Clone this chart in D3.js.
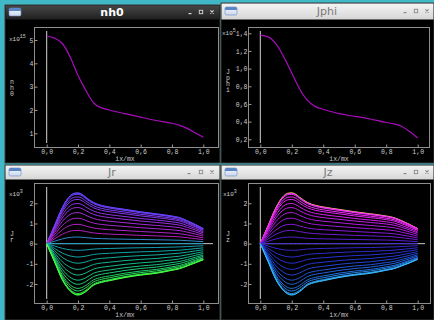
<!DOCTYPE html>
<html><head><meta charset="utf-8">
<script src="https://cdn.jsdelivr.net/npm/d3@7"></script>
<style>html,body{margin:0;padding:0;background:#40b8c8;overflow:hidden}svg{display:block}</style>
</head><body><svg id="c" width="434" height="320"></svg>
<script>
// ---------------- data ----------------
const nhX   = [0, 0.05, 0.1, 0.15, 0.2, 0.25, 0.3, 0.35, 0.4, 0.5, 0.6, 0.7, 0.8, 0.85, 0.9, 0.95, 1.0];
const nh0   = [5.16, 5.08, 4.85, 4.27, 3.48, 2.84, 2.30, 2.09, 2.00, 1.84, 1.69, 1.55, 1.43, 1.34, 1.20, 1.01, 0.83];
const jphi  = [1.38, 1.36, 1.28, 1.13, 0.95, 0.77, 0.64, 0.57, 0.54, 0.49, 0.46, 0.43, 0.39, 0.375, 0.345, 0.285, 0.215];

const jX      = [0, 0.05, 0.1, 0.15, 0.175, 0.2, 0.225, 0.25, 0.3, 0.35, 0.4, 0.5, 0.6, 0.7, 0.8, 0.85, 0.9, 0.95, 1.0];
const jrUpper = [0, 0.90, 1.80, 2.38, 2.50, 2.52, 2.45, 2.30, 2.04, 1.90, 1.82, 1.70, 1.58, 1.48, 1.37, 1.29, 1.13, 0.95, 0.75];
const jrLower = [0, -0.90, -1.80, -2.35, -2.50, -2.55, -2.50, -2.38, -2.06, -1.92, -1.84, -1.68, -1.56, -1.47, -1.32, -1.24, -1.10, -0.95, -0.80];
const jzUpper = [0, 0.90, 1.80, 2.38, 2.50, 2.52, 2.45, 2.30, 2.04, 1.90, 1.82, 1.70, 1.58, 1.48, 1.37, 1.29, 1.13, 0.95, 0.75];
const jzLower = [0, -0.90, -1.80, -2.35, -2.50, -2.55, -2.50, -2.38, -2.06, -1.92, -1.84, -1.68, -1.56, -1.47, -1.32, -1.24, -1.10, -0.95, -0.78];
// relative level of each of the 25 curves (top to bottom)
const jLevels = [1.0, 0.99, 0.97, 0.92, 0.87, 0.79, 0.71, 0.61, 0.5, 0.38, 0.26, 0.13, 0,
                 -0.13, -0.26, -0.38, -0.5, -0.61, -0.71, -0.79, -0.87, -0.92, -0.97, -0.99, -1.0];

const xTicks      = [0, 0.2, 0.4, 0.6, 0.8, 1.0];
const xTickLabels = ["0,0", "0,2", "0,4", "0,6", "0,8", "1,0"];
const nhTicks     = [1, 2, 3, 4, 5];
const nhTickLabels= ["1", "2", "3", "4", "5"];
const jphiTicks   = [0.2, 0.4, 0.6, 0.8, 1.0, 1.2, 1.4];
const jphiTickLabels = ["0,2", "0,4", "0,6", "0,8", "1,0", "1,2", "1,4"];
const jTicks      = [-2, -1, 0, 1, 2];
const jTickLabels = ["-2", "-1", "0", "1", "2"];

// ---------------- styling ----------------
const jrColorStops = [[0,"#5a46ff"],[3,"#7a3af2"],[7,"#a62ad8"],[10,"#b020b8"],[11,"#2a88c8"],[12,"#1898b8"],[14,"#10a4a4"],[18,"#18c080"],[22,"#30e050"],[24,"#48ff40"]];
const jzColorStops = [[0,"#d8e820"],[1,"#ff38ff"],[4,"#e424f0"],[8,"#a018d8"],[12,"#3a20c8"],[16,"#2038d0"],[20,"#2070e0"],[24,"#38b8f8"]];
const FONT = "'Liberation Mono','DejaVu Sans Mono',monospace";
const TICK_FS = 6.5;

const svg = d3.select("#c");
svg.append("rect").attr("width",434).attr("height",320).attr("fill","#40b8c8");

const defs = svg.append("defs");
const gDark = defs.append("linearGradient").attr("id","gDark").attr("x1",0).attr("x2",0).attr("y1",0).attr("y2",1);
gDark.append("stop").attr("offset","0%").attr("stop-color","#474747");
gDark.append("stop").attr("offset","100%").attr("stop-color","#1f1f1f");
const gLight = defs.append("linearGradient").attr("id","gLight").attr("x1",0).attr("x2",0).attr("y1",0).attr("y2",1);
gLight.append("stop").attr("offset","0%").attr("stop-color","#f4f4f4");
gLight.append("stop").attr("offset","100%").attr("stop-color","#d6d6d6");
const gIcon = defs.append("linearGradient").attr("id","gIcon").attr("x1",0).attr("x2",0).attr("y1",0).attr("y2",1);
gIcon.append("stop").attr("offset","0%").attr("stop-color","#5a86c8");
gIcon.append("stop").attr("offset","35%").attr("stop-color","#5a86c8");
gIcon.append("stop").attr("offset","36%").attr("stop-color","#e8eef8");
gIcon.append("stop").attr("offset","100%").attr("stop-color","#c8d6ee");

const windows = [
  {title:"nh0",  x:5,   y:5,   w:215, h:158, th:14, dark:true,  tx:112, btn:[190,201,212]},
  {title:"Jphi", x:221, y:3,   w:213, h:160, th:16, dark:false, tx:327, btn:[405,416,427]},
  {title:"Jr",   x:5,   y:165, w:215, h:155, th:14, dark:false, tx:112, btn:[189,201,212]},
  {title:"Jz",   x:221, y:165, w:213, h:155, th:14, dark:false, tx:328, btn:[405,416,427]}
];

windows.forEach(w => {
  const g = svg.append("g");
  g.append("rect").attr("x",w.x).attr("y",w.y).attr("width",w.w).attr("height",w.h)
    .attr("fill","#000").attr("stroke","#3a3a3a").attr("stroke-width",1);
  g.append("rect").attr("x",w.x+0.5).attr("y",w.y+0.5).attr("width",w.w-1).attr("height",w.th)
    .attr("fill", w.dark ? "url(#gDark)" : "url(#gLight)");
  g.append("rect").attr("x",w.x+4).attr("y",w.y+w.th/2-4).attr("width",12).attr("height",8).attr("rx",1.5)
    .attr("fill","url(#gIcon)").attr("stroke","#6a8cc0").attr("stroke-width",0.6);
  g.append("text").attr("x",w.tx).attr("y",w.y+w.th/2+4).attr("text-anchor","middle")
    .attr("font-family","'DejaVu Sans',sans-serif").attr("font-size",11)
    .attr("font-weight", w.dark ? "bold" : "normal")
    .attr("fill", w.dark ? "#ffffff" : "#7a7a7a").text(w.title);
  const bc = w.dark ? "#d8d8d8" : "#8a8a8a";
  const cy = w.y + w.th/2;
  g.append("rect").attr("x",w.btn[0]-1.5).attr("y",cy+1).attr("width",3).attr("height",1.2).attr("fill",bc);
  g.append("rect").attr("x",w.btn[1]-1.7).attr("y",cy-1.7).attr("width",3.4).attr("height",3.4).attr("fill","none").attr("stroke",bc).attr("stroke-width",0.9);
  g.append("path").attr("d",`M${w.btn[2]-1.6},${cy-1.6}L${w.btn[2]+1.6},${cy+1.6}M${w.btn[2]+1.6},${cy-1.6}L${w.btn[2]-1.6},${cy+1.6}`)
    .attr("stroke",bc).attr("stroke-width",1.1);
});

const panels = [
  {frame:[34,27,218,147],  xr:[46.7,203.3], yd:[1,5],     yr:[133.3,40],   yticks:nhTicks,   ylabels:nhTickLabels,
   exp:"15", expX:9, expY:41, ylab:["n","h","0"], ylabX:12, ylabY:84},
  {frame:[248,27,429,147], xr:[260.3,417.7], yd:[0.2,1.4], yr:[139.3,33.3], yticks:jphiTicks, ylabels:jphiTickLabels,
   exp:"5", expX:222, expY:35, ylab:["J","p","h","i"], ylabX:228, ylabY:74},
  {frame:[34,183,218,303], xr:[46.7,203.3], yd:[-2,2],    yr:[284,203.3],  yticks:jTicks,    ylabels:jTickLabels,
   exp:"3", expX:9, expY:195.5, ylab:["J","r"], ylabX:12, ylabY:236, zero:true},
  {frame:[248,183,430,303], xr:[260.3,417.7], yd:[-2,2],  yr:[284,203.3],  yticks:jTicks,    ylabels:jTickLabels,
   exp:"3", expX:223, expY:195.5, ylab:["J","z"], ylabX:228, ylabY:236, zero:true}
];

panels.forEach(p => {
  p.x = d3.scaleLinear().domain([0,1]).range(p.xr);
  p.y = d3.scaleLinear().domain(p.yd).range(p.yr);
  const [x0,y0,x1,y1] = p.frame;
  const g = svg.append("g");
  g.append("rect").attr("x",x0+0.5).attr("y",y0+0.5).attr("width",x1-x0).attr("height",y1-y0)
    .attr("fill","none").attr("stroke","#8e8e8e").attr("stroke-width",1);

  const yAxis = d3.axisLeft(p.y).tickValues(p.yticks).tickFormat((d,i)=>p.ylabels[i])
    .tickSizeInner(-3).tickSizeOuter(0).tickPadding(1);
  const ya = g.append("g").attr("transform",`translate(${x0+0.5},0)`).call(yAxis);
  const xAxis = d3.axisBottom(p.x).tickValues(xTicks).tickFormat((d,i)=>xTickLabels[i])
    .tickSizeInner(-3).tickSizeOuter(0).tickPadding(2);
  const xa = g.append("g").attr("transform",`translate(0,${y1+0.5})`).call(xAxis);
  [ya,xa].forEach(a => {
    a.select(".domain").remove();
    a.selectAll("line").attr("stroke","#9a9a9a");
    a.selectAll("text").attr("fill","#cfcfcf").attr("font-family",FONT).attr("font-size",TICK_FS);
  });

  // axis title
  g.append("text").attr("x",p.x(0.5)).attr("y",y1+14).attr("text-anchor","middle")
    .attr("font-family",FONT).attr("font-size",6.5).attr("fill","#c8c8c8").text("ix/mx");
  // exponent
  const et = g.append("text").attr("x",p.expX).attr("y",p.expY).attr("font-family",FONT)
    .attr("font-size",6).attr("fill","#cfcfcf");
  et.append("tspan").text("x10");
  et.append("tspan").attr("dy",-3).attr("font-size",5).text(p.exp);
  // stacked y label
  p.ylab.forEach((ch,i) => {
    g.append("text").attr("x",p.ylabX).attr("y",p.ylabY+i*6).attr("text-anchor","middle")
      .attr("font-family",FONT).attr("font-size",6.5).attr("fill","#cfcfcf").text(ch);
  });
  // zero axes
  g.append("line").attr("x1",p.x(0)).attr("x2",p.x(0)).attr("y1",y0+4).attr("y2",y1-4)
    .attr("stroke","#d4d4d4").attr("stroke-width",1);
  if (p.zero) {
    g.append("line").attr("x1",p.x(0)).attr("x2",x1-5).attr("y1",p.y(0)).attr("y2",p.y(0))
      .attr("stroke","#c8c8c8").attr("stroke-width",1);
  }
  p.g = g;
});

// single profiles
const line1 = (p) => d3.line().x(d=>p.x(d[0])).y(d=>p.y(d[1])).curve(d3.curveMonotoneX);
[[panels[0], nh0], [panels[1], jphi]].forEach(([p, vals]) => {
  p.g.append("path").datum(nhX.map((x,i)=>[x, vals[i]]))
    .attr("d", line1(p)).attr("fill","none").attr("stroke","#a80cbc").attr("stroke-width",1.2);
});

// families
function colorScale(stops) {
  return d3.scaleLinear().domain(stops.map(s=>s[0])).range(stops.map(s=>s[1])).interpolate(d3.interpolateRgb);
}
[[panels[2], jrUpper, jrLower, jrColorStops], [panels[3], jzUpper, jzLower, jzColorStops]].forEach(([p, up, lo, stops]) => {
  const col = colorScale(stops);
  const series = jLevels.map(lv => jX.map((x,j) => [x, lv >= 0 ? lv*up[j] : -lv*lo[j]]));
  const order = d3.range(series.length);
  p.g.selectAll("path.s").data(order).join("path").attr("class","s")
    .attr("d", i => line1(p)(series[i]))
    .attr("fill","none").attr("stroke", i => col(i)).attr("stroke-width",1);
});
</script></body></html>
